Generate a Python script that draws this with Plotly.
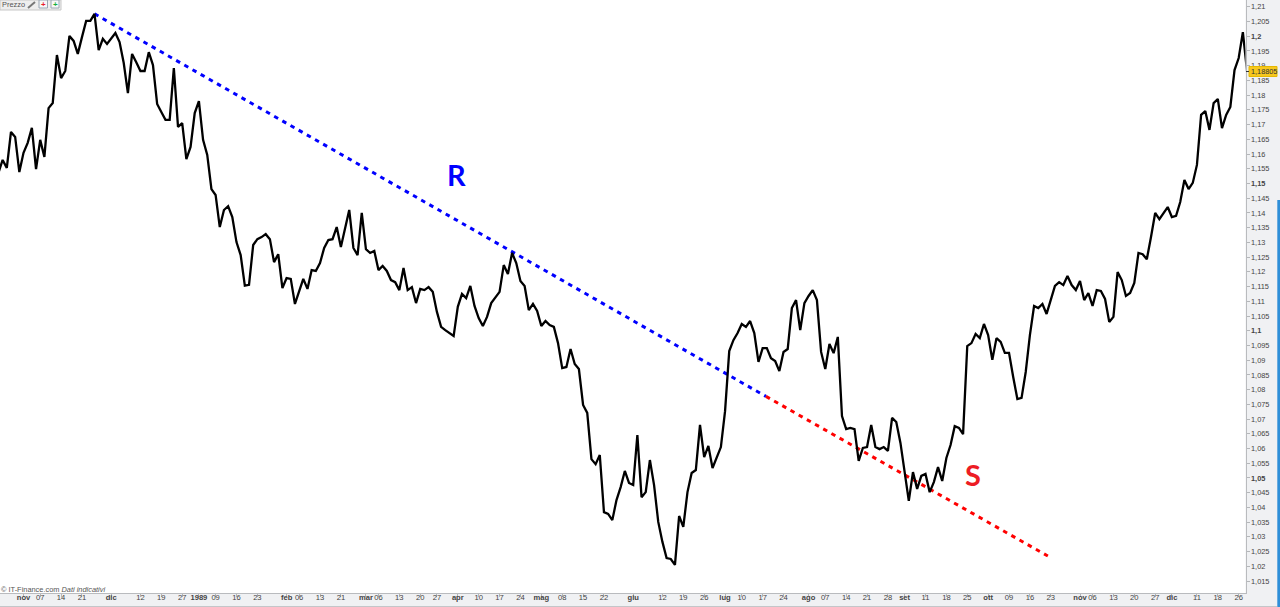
import plotly.graph_objects as go

prices = [
1.1536,1.1580,1.1553,1.1675,1.1658,1.1539,1.1604,1.1638,1.1689,1.1549,1.1648,1.1590,1.1756,1.1773,1.1936,1.1858,1.1882,1.2001,1.1984,1.1940,
1.1997,1.2052,1.2052,1.2076,1.1953,1.1991,1.1974,1.1994,1.2011,1.1980,1.1909,1.1807,1.1940,1.1912,1.1882,1.1882,1.1946,1.1902,1.1770,1.1743,
1.1716,1.1716,1.1892,1.1692,1.1705,1.1583,1.1624,1.1739,1.1780,1.1648,1.1597,1.1481,1.1461,1.1352,1.1410,1.1423,1.1386,1.1301,1.1257,1.1153,
1.1156,1.1291,1.1311,1.1318,1.1328,1.1311,1.1233,1.1260,1.1145,1.1179,1.1176,1.1091,1.1132,1.1176,1.1142,1.1206,1.1203,1.1230,1.1281,1.1308,
1.1311,1.1352,1.1284,1.1349,1.1410,1.1281,1.1257,1.1400,1.1277,1.1264,1.1271,1.1206,1.1220,1.1203,1.1172,1.1165,1.1138,1.1213,1.1138,1.1148,
1.1094,1.1142,1.1138,1.1148,1.1132,1.1064,1.1013,1.1002,1.0992,1.0982,1.1081,1.1125,1.1111,1.1152,1.1084,1.1043,1.1016,1.1047,1.1094,1.1115,
1.1132,1.1223,1.1193,1.1264,1.1230,1.1169,1.1152,1.1070,1.1091,1.1067,1.1016,1.1033,1.1019,1.1013,1.0958,1.0873,1.0877,1.0938,1.0887,1.0870,
1.0748,1.0721,1.0564,1.0547,1.0578,1.0384,1.0378,1.0357,1.0425,1.0469,1.0524,1.0483,1.0476,1.0646,1.0435,1.0452,1.0561,1.0476,1.0351,1.0283,
1.0228,1.0225,1.0205,1.0371,1.0334,1.0452,1.0517,1.0527,1.0680,1.0571,1.0609,1.0534,1.0568,1.0605,1.0727,1.0931,1.0968,1.0992,1.1023,1.1013,
1.1033,1.0992,1.0894,1.0941,1.0941,1.0907,1.0897,1.0863,1.0928,1.0938,1.1077,1.1104,1.1002,1.1094,1.1118,1.1138,1.1104,1.0928,1.0870,1.0955,
1.0924,1.0979,1.0710,1.0666,1.0670,1.0666,1.0558,1.0602,1.0605,1.0680,1.0605,1.0598,1.0605,1.0592,1.0704,1.0690,1.0619,1.0527,1.0422,1.0520,
1.0463,1.0507,1.0514,1.0452,1.0486,1.0537,1.0490,1.0568,1.0612,1.0676,1.0670,1.0649,1.0948,1.0958,1.0989,1.0975,1.1023,1.0985,1.0901,1.0975,
1.0962,1.0925,1.0925,1.0843,1.0768,1.0772,1.0860,1.0985,1.1084,1.1077,1.1091,1.1057,1.1104,1.1152,1.1165,1.1155,1.1186,1.1155,1.1138,1.1169,
1.1104,1.1128,1.1084,1.1138,1.1135,1.1108,1.1030,1.1047,1.1199,1.1172,1.1118,1.1128,1.1162,1.1264,1.1260,1.1243,1.1318,1.1400,1.1379,1.1400,
1.1420,1.1386,1.1390,1.1437,1.1512,1.1481,1.1502,1.1563,1.1733,1.1746,1.1682,1.1773,1.1787,1.1688,1.1733,1.1760,1.1885,1.1926,1.2014,1.18805,
]
bar_index = list(range(len(prices)))

resistance_index = [23, 183.8]
resistance_value = [1.2076, 1.0777]
support_index = [183.8, 251.3]
support_value = [1.0777, 1.0235]

x_tick_index = [6,10,15,20,27,34,39,44,48,52,57,62,69,72,77,82,88,91,96,101,105,110,115,120,125,130,135,140,145,152,159,164,169,174,178,183,188,194,198,203,208,213,217,222,227,232,237,242,247,252,259,262,267,272,277,281,287,292,297]
x_tick_text = ["nov","07","14","21","dic","12","19","27","1989","09","16","23","feb","06","13","21","mar","06","13","20","27","apr","10","17","24","mag","08","15","22","giu","12","19","26","lug","10","17","24","ago","07","14","21","28","set","11","18","25","ott","09","16","23","nov","06","13","20","27","dic","11","18","26"]
bold_x = {"nov","dic","1989","feb","mar","apr","mag","giu","lug","ago","set","ott"}

y_tick_values = [1.015,1.02,1.025,1.03,1.035,1.04,1.045,1.05,1.055,1.06,1.065,1.07,1.075,1.08,1.085,1.09,1.095,1.1,1.105,1.11,1.115,1.12,1.125,1.13,1.135,1.14,1.145,1.15,1.155,1.16,1.165,1.17,1.175,1.18,1.185,1.19,1.195,1.2,1.205,1.21]
y_tick_text = ["1,015","1,02","1,025","1,03","1,035","1,04","1,045","<b>1,05</b>","1,055","1,06","1,065","1,07","1,075","1,08","1,085","1,09","1,095","<b>1,1</b>","1,105","1,11","1,115","1,12","1,125","1,13","1,135","1,14","1,145","<b>1,15</b>","1,155","1,16","1,165","1,17","1,175","1,18","1,185","1,19","1,195","<b>1,2</b>","1,205","1,21"]

W, H = 1280, 607
PR, PB = 1245.5, 593
def px(x): return x / W
def py(y): return 1 - y / H
FONT = "Liberation Sans"

fig = go.Figure()
fig.add_trace(go.Scatter(x=resistance_index, y=resistance_value, mode="lines",
                         line=dict(color="#0000ff", width=3, dash="4.5px,4.9px"), hoverinfo="skip"))
fig.add_trace(go.Scatter(x=support_index, y=support_value, mode="lines",
                         line=dict(color="#ff0000", width=3, dash="4.5px,4.9px"), hoverinfo="skip"))
fig.add_trace(go.Scatter(x=bar_index, y=prices, mode="lines",
                         line=dict(color="#000000", width=2.3), name="Prezzo"))

shapes = [
    dict(type="rect", xref="paper", yref="paper", x0=px(1277.3), x1=1, y0=0, y1=py(200),
         fillcolor="#2f8fd8", line_width=0),
    dict(type="line", xref="paper", yref="paper", x0=0, x1=px(1277), y0=py(606.5), y1=py(606.5),
         line=dict(color="#c4c6c9", width=1)),
    dict(type="rect", xref="paper", yref="paper", x0=0, x1=px(61), y0=py(10), y1=1,
         fillcolor="#eeeeee", line=dict(color="#c8c8c8", width=1)),
    dict(type="rect", xref="paper", yref="paper", x0=px(39), x1=px(47.5), y0=py(8), y1=1,
         fillcolor="#f7f7f7", line=dict(color="#9aa7b5", width=1)),
    dict(type="rect", xref="paper", yref="paper", x0=px(51), x1=px(59), y0=py(8), y1=1,
         fillcolor="#f7f7f7", line=dict(color="#9aa7b5", width=1)),
    dict(type="line", xref="paper", yref="paper", x0=px(28), x1=px(35), y0=py(8), y1=py(2),
         line=dict(color="#777777", width=2)),
    dict(type="rect", xref="paper", yref="paper", x0=px(1249), x1=px(1277), y0=py(76.5), y1=py(66.5),
         fillcolor="#f7c81e", line=dict(color="#e6b800", width=1)),
    dict(type="line", xref="paper", yref="paper", x0=px(1246), x1=px(1249), y0=py(71.5), y1=py(71.5),
         line=dict(color="#333333", width=1)),
]

def note(x, y, text, size, color, family=FONT, anchor="center"):
    return dict(xref="paper", yref="paper", x=px(x), y=py(y), text=text, showarrow=False,
                xanchor=anchor, yanchor="middle", font=dict(size=size, color=color, family=family),
                align="left", borderpad=0, borderwidth=0)

annotations = [
    note(456, 174.5, "<b>R</b>", 29, "#0000ff", "Lato"),
    note(973, 474, "<b>S</b>", 29, "#ed1c24", "Lato"),
    note(1, 589, "© IT-Finance.com <i>Dati indicativi</i>", 7.4, "#555555", anchor="left"),
    note(2, 4.5, "Prezzo", 7.4, "#555555", anchor="left"),
    note(43.2, 5, "<b>+</b>", 8, "#e8202a"),
    note(55, 5, "<b>+</b>", 8, "#16b03c"),
    note(1250.5, 71.5, "1,18805", 7.3, "#333333", anchor="left"),
]

fig.update_layout(
    width=W, height=H,
    margin=dict(l=0, r=0, t=0, b=0, pad=0),
    paper_bgcolor="#f0f1f3", plot_bgcolor="#ffffff",
    showlegend=False,
    shapes=shapes, annotations=annotations,
    font=dict(family=FONT, size=7.5, color="#444444"),
    xaxis=dict(
        domain=[0, PR / W], range=[0.37, 298.63], automargin=False,
        tickmode="array", tickvals=x_tick_index, tickangle=0,
        ticktext=[f"<b>{t}</b>" if t in bold_x else t for t in x_tick_text],
        ticks="outside", ticklen=3, tickcolor="#b5b7ba", tickwidth=1, ticklabelstandoff=-6,
        showgrid=False, zeroline=False, showline=True, linecolor="#b9bbbe", linewidth=1,
        tickfont=dict(size=7.6, color="#444444"),
    ),
    yaxis=dict(
        domain=[1 - PB / H, 1], range=[1.01095, 1.2123], automargin=False, side="right",
        tickmode="array", tickvals=y_tick_values, ticktext=y_tick_text,
        ticks="outside", ticklen=3, tickcolor="#b5b7ba", tickwidth=1,
        showgrid=False, zeroline=False, showline=True, linecolor="#b9bbbe", linewidth=1,
        tickfont=dict(size=7.4, color="#444444"),
    ),
)
fig.write_html("out.html", config={"displayModeBar": False},
               post_script="document.body.style.margin='0';document.body.style.overflow='hidden';")
